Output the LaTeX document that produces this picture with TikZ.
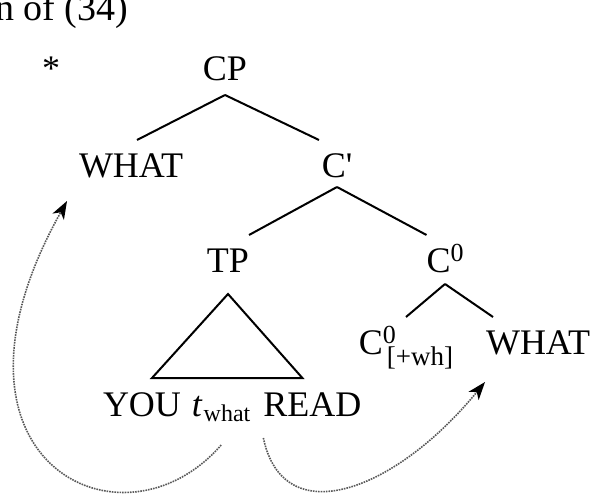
\documentclass[tikz,border=0pt]{standalone}
\usepackage{fontspec}
\setmainfont{Liberation Serif}
\usetikzlibrary{arrows.meta,positioning}
\newcommand{\supx}[1]{\raisebox{11pt}{\fontsize{26}{26}\selectfont #1}}
\newcommand{\subx}[2][-10pt]{\raisebox{#1}{\fontsize{27}{27}\selectfont #2}}
\tikzset{%
  lbl/.style={inner sep=0,outer xsep=0,outer ysep=14pt,text height=24pt,text depth=0pt,font=\fontsize{36}{40}\selectfont},
  branch/.style={draw=black,line width=2pt},
  movearrow/.style={draw=black!65,densely dotted,line width=1.6pt,-{Stealth[length=18pt,width=13pt,inset=5pt,color=black]}}
}
\begin{document}
\begin{tikzpicture}[x=1pt,y=1pt,every node/.style={lbl}]
      \useasboundingbox (0,0) rectangle (602,-502);
      \path
        (-5,-21) node (title)[anchor=base west,font=\fontsize{38}{42}\selectfont]{n of (34)}
        (51,-81) node (star)[anchor=base]{*}
        (225,-81) node (cp)[anchor=base]{CP}
        (131,-178) node (whatA)[anchor=base]{WHAT}
        (337,-178) node (cbar)[anchor=base]{C\textquotesingle}
        (228,-273) node (tp)[anchor=base]{TP}
        (445,-273) node (c0)[anchor=base]{C\supx{0}}
        (406,-355) node (c0wh)[anchor=base]{C\rlap{\supx{0}}\kern4pt\subx{[+wh]}}
        (538,-355) node (whatB)[anchor=base]{WHAT}
        (142,-416) node (you)[anchor=base]{YOU};
      \node (tw) [base right=11pt of you] {\textit{t}\kern1pt\subx[-5pt]{\fontsize{24}{24}\selectfont what}};
      \node (read) [base right=13pt of tw] {READ};
      \draw[branch] (cp.south) -- ([xshift=6pt]whatA.north);
      \draw[branch] (cp.south) -- ([xshift=-18pt]cbar.north);
      \draw[branch] ([yshift=5pt]cbar.south) -- (tp.north east);
      \draw[branch] ([yshift=5pt]cbar.south) -- (c0.north west);
      \draw[branch] ([yshift=3pt]c0.south) -- (c0wh.north);
      \draw[branch] ([yshift=3pt]c0.south) -- ([xshift=7pt]whatB.north west);
      \draw[branch] ([yshift=-7pt]tp.south) -- ([xshift=10pt]you.north) -- ([xshift=-10pt]read.north) -- cycle;
      \draw[movearrow] ([yshift=-15pt]tw.south) .. controls +(-100,-115) and +(-145,-259) .. ([xshift=-12pt,yshift=-9pt]whatA.south west);
      \draw[movearrow] ([yshift=-8pt]read.south west) .. controls +(20,-95) and +(-90,-110) .. ([xshift=-1pt,yshift=-13pt]whatB.south west);
    \end{tikzpicture}
\end{document}
